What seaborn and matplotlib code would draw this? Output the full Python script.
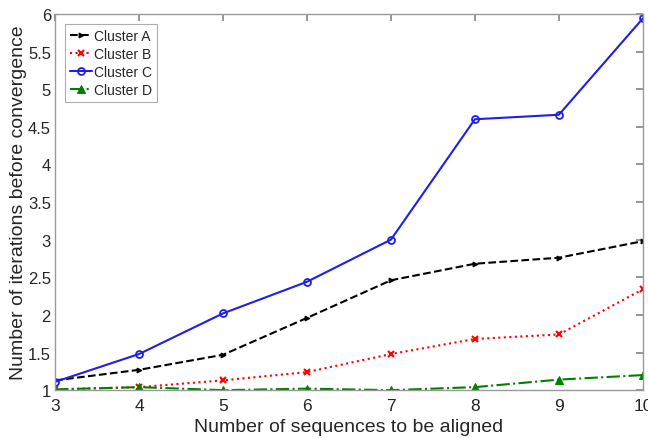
import seaborn as sns
import matplotlib.pyplot as plt
import pandas as pd

# data
n_seqs = [3, 4, 5, 6, 7, 8, 9, 10]
cluster_a = [1.13, 1.27, 1.47, 1.96, 2.46, 2.68, 2.76, 2.98]
cluster_b = [1.01, 1.04, 1.13, 1.24, 1.48, 1.68, 1.74, 2.34]
cluster_c = [1.11, 1.48, 2.02, 2.44, 3.00, 4.60, 4.66, 5.94]
cluster_d = [1.01, 1.04, 1.00, 1.02, 1.00, 1.04, 1.14, 1.20]
y_ticks = [1, 1.5, 2, 2.5, 3, 3.5, 4, 4.5, 5, 5.5, 6]
y_tick_labels = ["1", "1.5", "2", "2.5", "3", "3.5", "4", "4.5", "5", "5.5", "6"]

sns.set_theme(style="white")
plt.rcParams["font.family"] = ["Liberation Sans", "DejaVu Sans"]

df = pd.DataFrame({"n": n_seqs, "Cluster A": cluster_a, "Cluster B": cluster_b,
                   "Cluster C": cluster_c, "Cluster D": cluster_d})

styles = {
    "Cluster A": dict(color="black", linestyle="--", marker=">", markersize=3.5,
                      markeredgecolor="black"),
    "Cluster B": dict(color="red", linestyle=":", marker="x", markersize=4,
                      markeredgewidth=1.5, markeredgecolor="red"),
    "Cluster C": dict(color="#1f1fe6", linestyle="-", marker="o", markersize=5,
                      markerfacecolor="none", markeredgewidth=1.3, markeredgecolor="#1f1fe6"),
    "Cluster D": dict(color="green", linestyle="-.", marker="^", markersize=5.5,
                      markeredgecolor="green"),
}

fig, ax = plt.subplots(figsize=(6.48, 4.39), dpi=100)
for name, st in styles.items():
    sns.lineplot(data=df, x="n", y=name, ax=ax, label=name, linewidth=1.5, **st)

ax.set_xlim(3, 10)
ax.set_ylim(1, 6)
ax.set_xticks(n_seqs)
ax.set_yticks(y_ticks)
ax.set_yticklabels(y_tick_labels)
ax.tick_params(direction="in", length=5, top=True, right=True, labelsize=12.5,
               color="#888888", pad=4)
ax.tick_params(axis="y", labelsize=12, pad=3)
ax.tick_params(axis="x", pad=6)
for sp in ax.spines.values():
    sp.set_color("#999999")
    sp.set_linewidth(1.0)
ax.set_xlabel("Number of sequences to be aligned", fontsize=14)
ax.set_ylabel("Number of iterations before convergence", fontsize=14)
ax.xaxis.set_label_coords(0.5, -0.074)
ax.yaxis.set_label_coords(-0.048, 0.5)

leg = ax.legend(loc="upper left", bbox_to_anchor=(0.01, 0.985), fontsize=10,
                frameon=True, fancybox=False, handlelength=1.6, handletextpad=0.15,
                borderpad=0.35, labelspacing=0.3, borderaxespad=0.3)
leg.get_frame().set_edgecolor("#999999")
leg.get_frame().set_linewidth(0.8)

fig.subplots_adjust(left=0.085, right=0.992, top=0.966, bottom=0.109)
fig.savefig("out.png", dpi=100)
